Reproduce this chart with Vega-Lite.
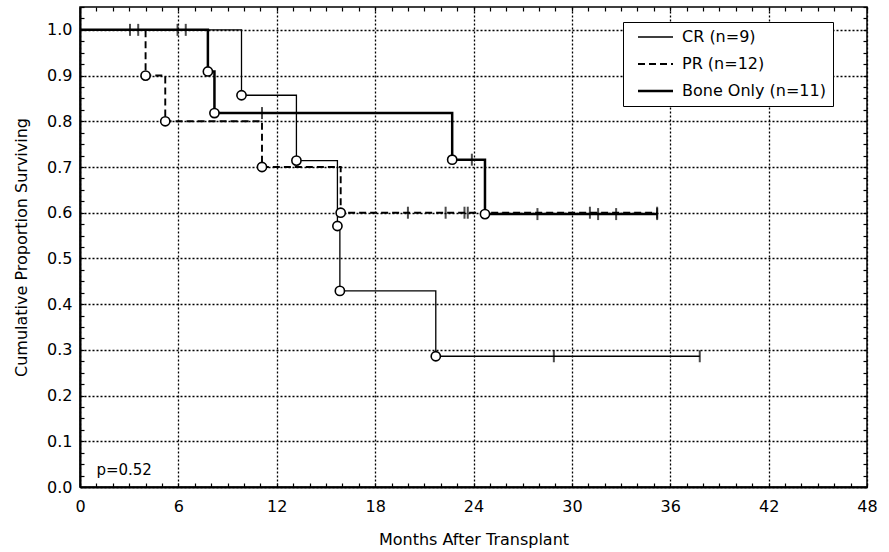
{
  "$schema": "https://vega.github.io/schema/vega-lite/v6.json",
  "width": 787,
  "height": 480,
  "autosize": "none",
  "padding": {"left": 80, "top": 7, "right": 22, "bottom": 65},
  "background": "white",
  "config": {
    "font": "DejaVu Sans",
    "view": {"stroke": "#000", "strokeWidth": 1.5},
    "axis": {
      "domainColor": "#000",
      "domainWidth": 2,
      "tickColor": "#000",
      "tickWidth": 1.2,
      "tickSize": -4,
      "tickCount": 100,
      "gridColor": "#000",
      "gridDash": [2, 2],
      "gridWidth": 1.3,
      "labelFont": "DejaVu Sans",
      "labelFontSize": 16,
      "labelColor": "#000",
      "labelOverlap": false,
      "labelFlush": false,
      "titleFont": "DejaVu Sans",
      "titleFontWeight": "normal",
      "titleColor": "#000"
    },
    "legend": {
      "orient": "none",
      "legendX": 543,
      "legendY": 15,
      "strokeColor": "#000",
      "fillColor": "white",
      "padding": 7,
      "symbolType": "M0,0H7",
      "symbolSize": 100,
      "symbolFillColor": "transparent",
      "symbolStrokeColor": "#000",
      "labelFont": "DejaVu Sans",
      "labelFontSize": 16,
      "labelColor": "#000",
      "labelOffset": 36,
      "rowPadding": 11
    }
  },
  "resolve": {"axis": {"x": "independent", "y": "independent"}},
  "datasets": {
    "steps": [
      {"series": "CR (n=9)", "t": 0, "s": 1},
      {"series": "CR (n=9)", "t": 9.85, "s": 0.857},
      {"series": "CR (n=9)", "t": 13.2, "s": 0.714},
      {"series": "CR (n=9)", "t": 15.7, "s": 0.571},
      {"series": "CR (n=9)", "t": 15.85, "s": 0.429},
      {"series": "CR (n=9)", "t": 21.7, "s": 0.286},
      {"series": "CR (n=9)", "t": 37.8, "s": 0.286},
      {"series": "PR (n=12)", "t": 0, "s": 1},
      {"series": "PR (n=12)", "t": 4.0, "s": 0.9},
      {"series": "PR (n=12)", "t": 5.2, "s": 0.8},
      {"series": "PR (n=12)", "t": 11.1, "s": 0.7},
      {"series": "PR (n=12)", "t": 15.9, "s": 0.6},
      {"series": "PR (n=12)", "t": 35.2, "s": 0.6},
      {"series": "Bone Only (n=11)", "t": 0, "s": 1},
      {"series": "Bone Only (n=11)", "t": 7.8, "s": 0.909},
      {"series": "Bone Only (n=11)", "t": 8.2, "s": 0.818},
      {"series": "Bone Only (n=11)", "t": 22.7, "s": 0.716},
      {"series": "Bone Only (n=11)", "t": 24.7, "s": 0.597},
      {"series": "Bone Only (n=11)", "t": 35.2, "s": 0.597}
    ],
    "events": [
      {"series": "CR (n=9)", "t": 9.85, "s": 0.857},
      {"series": "CR (n=9)", "t": 13.2, "s": 0.714},
      {"series": "CR (n=9)", "t": 15.7, "s": 0.571},
      {"series": "CR (n=9)", "t": 15.85, "s": 0.429},
      {"series": "CR (n=9)", "t": 21.7, "s": 0.286},
      {"series": "PR (n=12)", "t": 4.0, "s": 0.9},
      {"series": "PR (n=12)", "t": 5.2, "s": 0.8},
      {"series": "PR (n=12)", "t": 11.1, "s": 0.7},
      {"series": "PR (n=12)", "t": 15.9, "s": 0.6},
      {"series": "Bone Only (n=11)", "t": 7.8, "s": 0.909},
      {"series": "Bone Only (n=11)", "t": 8.2, "s": 0.818},
      {"series": "Bone Only (n=11)", "t": 22.7, "s": 0.716},
      {"series": "Bone Only (n=11)", "t": 24.7, "s": 0.597}
    ],
    "censors": [
      {"series": "CR (n=9)", "t": 5.95, "s": 1},
      {"series": "CR (n=9)", "t": 6.45, "s": 1},
      {"series": "CR (n=9)", "t": 28.9, "s": 0.286},
      {"series": "CR (n=9)", "t": 37.8, "s": 0.286},
      {"series": "PR (n=12)", "t": 3.05, "s": 1},
      {"series": "PR (n=12)", "t": 3.55, "s": 1},
      {"series": "PR (n=12)", "t": 20.0, "s": 0.6},
      {"series": "PR (n=12)", "t": 22.3, "s": 0.6},
      {"series": "PR (n=12)", "t": 23.45, "s": 0.6},
      {"series": "PR (n=12)", "t": 23.65, "s": 0.6},
      {"series": "PR (n=12)", "t": 31.1, "s": 0.6},
      {"series": "PR (n=12)", "t": 35.2, "s": 0.6},
      {"series": "Bone Only (n=11)", "t": 11.1, "s": 0.818},
      {"series": "Bone Only (n=11)", "t": 23.9, "s": 0.716},
      {"series": "Bone Only (n=11)", "t": 27.9, "s": 0.597},
      {"series": "Bone Only (n=11)", "t": 31.6, "s": 0.597},
      {"series": "Bone Only (n=11)", "t": 32.7, "s": 0.597},
      {"series": "Bone Only (n=11)", "t": 35.2, "s": 0.597}
    ],
    "notes": [
      {"t": 1.0, "s": 0.037, "label": "p=0.52"}
    ]
  },
  "layer": [
    {
      "data": {"name": "steps"},
      "mark": {"type": "line", "interpolate": "step-after", "color": "#000"},
      "encoding": {
        "x": {
          "field": "t", "type": "quantitative",
          "scale": {"domain": [0, 48], "nice": false, "zero": false},
          "axis": {
            "title": "Months After Transplant",
            "titleFontSize": 16,
            "titlePadding": 17,
            "labelPadding": 15,
            "tickCount": 100,
            "values": [0,1,2,3,4,5,6,7,8,9,10,11,12,13,14,15,16,17,18,19,20,21,22,23,24,25,26,27,28,29,30,31,32,33,34,35,36,37,38,39,40,41,42,43,44,45,46,47,48],
            "labelExpr": "datum.value % 6 === 0 ? format(datum.value, 'd') : ''",
            "gridOpacity": {"condition": {"test": "datum.value % 6 === 0", "value": 1}, "value": 0}
          }
        },
        "y": {
          "field": "s", "type": "quantitative",
          "scale": {"domain": [0, 1.05], "nice": false, "zero": true},
          "axis": {
            "title": "Cumulative Proportion Surviving",
            "titleFontSize": 16,
            "titlePadding": 17,
            "labelPadding": 12,
            "tickCount": 100,
            "values": [0,0.025,0.05,0.075,0.1,0.125,0.15,0.175,0.2,0.225,0.25,0.275,0.3,0.325,0.35,0.375,0.4,0.425,0.45,0.475,0.5,0.525,0.55,0.575,0.6,0.625,0.65,0.675,0.7,0.725,0.75,0.775,0.8,0.825,0.85,0.875,0.9,0.925,0.95,0.975,1.0,1.025,1.05],
            "labelExpr": "round(datum.value*40) % 4 === 0 ? format(datum.value, '.1f') : ''",
            "gridOpacity": {"condition": {"test": "round(datum.value*40) % 4 === 0", "value": 1}, "value": 0}
          }
        },
        "strokeDash": {
          "field": "series", "type": "nominal", "title": null,
          "scale": {"domain": ["CR (n=9)", "PR (n=12)", "Bone Only (n=11)"], "range": [[1, 0], [7, 4], [1, 0]]}
        },
        "strokeWidth": {
          "field": "series", "type": "nominal", "title": null,
          "scale": {"domain": ["CR (n=9)", "PR (n=12)", "Bone Only (n=11)"], "range": [1.3, 2.5, 3.2]}
        }
      }
    },
    {
      "data": {"name": "censors"},
      "mark": {"type": "tick", "orient": "vertical", "color": "#000", "size": 12, "thickness": 2},
      "encoding": {
        "x": {
          "field": "t", "type": "quantitative",
          "axis": {
            "orient": "top", "title": null, "labels": false, "domain": false, "grid": false,
            "tickSize": -4, "tickCount": 100,
            "values": [0,1,2,3,4,5,6,7,8,9,10,11,12,13,14,15,16,17,18,19,20,21,22,23,24,25,26,27,28,29,30,31,32,33,34,35,36,37,38,39,40,41,42,43,44,45,46,47,48]
          }
        },
        "y": {
          "field": "s", "type": "quantitative",
          "axis": {
            "orient": "right", "title": null, "labels": false, "domain": false, "grid": false,
            "tickSize": -4, "tickCount": 100,
            "values": [0,0.025,0.05,0.075,0.1,0.125,0.15,0.175,0.2,0.225,0.25,0.275,0.3,0.325,0.35,0.375,0.4,0.425,0.45,0.475,0.5,0.525,0.55,0.575,0.6,0.625,0.65,0.675,0.7,0.725,0.75,0.775,0.8,0.825,0.85,0.875,0.9,0.925,0.95,0.975,1.0,1.025,1.05]
          }
        }
      }
    },
    {
      "data": {"name": "events"},
      "mark": {"type": "point", "shape": "circle", "filled": true, "fill": "white", "stroke": "#000", "strokeWidth": 1.6, "size": 85, "opacity": 1},
      "encoding": {
        "x": {"field": "t", "type": "quantitative", "axis": null},
        "y": {"field": "s", "type": "quantitative", "axis": null}
      }
    },
    {
      "data": {"name": "notes"},
      "mark": {"type": "text", "align": "left", "baseline": "middle", "fontSize": 15, "font": "DejaVu Sans", "color": "#000"},
      "encoding": {
        "x": {"field": "t", "type": "quantitative", "axis": null},
        "y": {"field": "s", "type": "quantitative", "axis": null},
        "text": {"field": "label"}
      }
    }
  ]
}
